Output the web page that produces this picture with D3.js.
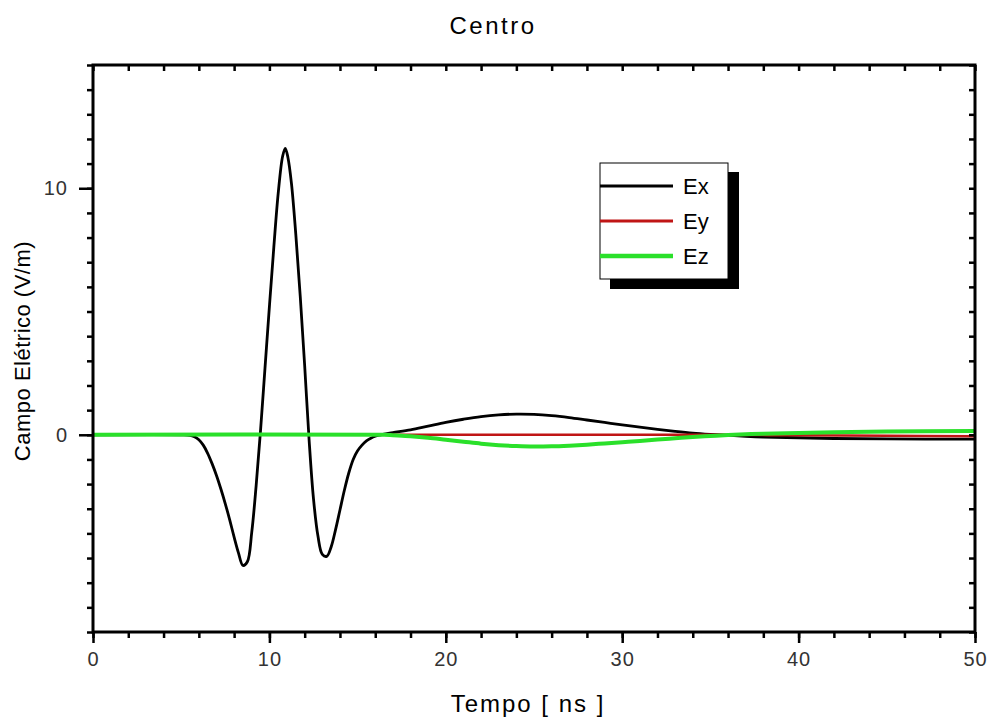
<!DOCTYPE html>
<html>
<head>
<meta charset="utf-8">
<script src="https://cdn.jsdelivr.net/npm/d3@7"></script>
<style>
  body { margin: 0; background: #fff; }
  svg { font-family: "Liberation Sans", Arial, sans-serif; }
</style>
</head>
<body>
<div id="chart"></div>
<script>
// tempo (ns) e campos (V/m)
const exTime = [0, 5, 5.5, 5.75, 6, 6.25, 6.5, 6.75, 7, 7.25, 7.5, 7.75, 8, 8.25, 8.5, 8.75, 9, 9.25, 9.5, 9.75, 10, 10.25, 10.5, 10.75, 10.9, 11.05, 11.25, 11.5, 11.75, 12, 12.25, 12.5, 12.75, 13, 13.25, 13.5, 13.75, 14, 14.25, 14.5, 14.75, 15, 15.25, 15.5, 15.75, 16, 16.25, 16.5, 17, 18, 19, 20, 21, 22, 23, 24, 25, 26, 27, 28, 29, 30, 31, 32, 33, 34, 35, 36, 37, 38, 40, 42, 45, 50];
const exValues = [0, 0, -0.02, -0.08, -0.2, -0.42, -0.75, -1.17, -1.65, -2.2, -2.8, -3.45, -4.15, -4.8, -5.3, -5.15, -3.95, -2.05, 0.2, 2.7, 5.2, 7.6, 9.8, 11.3, 11.62, 11.25, 10.2, 8.1, 5.6, 2.8, -0.2, -2.6, -4.1, -4.85, -4.93, -4.55, -3.85, -3.05, -2.25, -1.55, -1.0, -0.65, -0.42, -0.25, -0.14, -0.06, -0.01, 0.03, 0.09, 0.2, 0.35, 0.5, 0.63, 0.74, 0.81, 0.84, 0.83, 0.78, 0.7, 0.6, 0.5, 0.4, 0.31, 0.22, 0.14, 0.07, 0.02, -0.02, -0.06, -0.09, -0.12, -0.15, -0.17, -0.18];

const eyTime = [0, 16, 20, 25, 30, 35, 40, 45, 50];
const eyValues = [0, 0, 0, 0, 0, 0, -0.02, -0.04, -0.06];

const ezTime = [0, 16.5, 17, 18, 19, 20, 21, 22, 23, 24, 25, 26, 27, 28, 29, 30, 31, 32, 33, 34, 35, 36, 37, 38, 40, 42, 45, 50];
const ezValues = [0, 0, -0.02, -0.06, -0.12, -0.2, -0.28, -0.36, -0.42, -0.46, -0.48, -0.47, -0.44, -0.4, -0.35, -0.3, -0.25, -0.19, -0.14, -0.09, -0.05, -0.01, 0.02, 0.04, 0.07, 0.1, 0.13, 0.15];

const seriesNames = ["Ex", "Ey", "Ez"];
const seriesColors = ["#000000", "#c01515", "#2ae02a"];
const seriesWidths = [2.8, 2.6, 4];

const xMajorTicks = [0, 10, 20, 30, 40, 50];
const xMinorTicks = d3.range(0, 51, 2);
const yMajorTicks = [0, 10];
const yMinorTicks = d3.range(-8, 16, 1);

const width = 992, height = 721;
const margin = { top: 65, right: 17, bottom: 89, left: 93 };
const innerW = width - margin.left - margin.right;
const innerH = height - margin.top - margin.bottom;

const svg = d3.select("#chart").append("svg")
  .attr("width", width)
  .attr("height", height);

const g = svg.append("g")
  .attr("transform", `translate(${margin.left}, ${margin.top})`);

const x = d3.scaleLinear().domain([0, 50]).range([0, innerW]);
const y = d3.scaleLinear().domain([-8, 15]).range([innerH, 0]);

const series = [
  { time: exTime, values: exValues },
  { time: eyTime, values: eyValues },
  { time: ezTime, values: ezValues }
];

const line = d3.line()
  .x(d => x(d[0]))
  .y(d => y(d[1]))
  .curve(d3.curveCatmullRom.alpha(0.5));

g.append("defs").append("clipPath").attr("id", "clip")
  .append("rect").attr("width", innerW).attr("height", innerH);

const plot = g.append("g").attr("clip-path", "url(#clip)");

series.forEach((s, i) => {
  plot.append("path")
    .datum(s.time.map((t, j) => [t, s.values[j]]))
    .attr("fill", "none")
    .attr("stroke", seriesColors[i])
    .attr("stroke-width", seriesWidths[i])
    .attr("stroke-linejoin", "round")
    .attr("d", line);
});

// eixos
function styleAxis(sel) {
  sel.select(".domain").remove();
  sel.selectAll(".tick line").attr("stroke", "#000").attr("stroke-width", 2.5);
}

// inferior
g.append("g")
  .attr("transform", `translate(0, ${innerH})`)
  .call(d3.axisBottom(x).tickValues(xMinorTicks).tickSize(6).tickFormat(""))
  .call(styleAxis);
g.append("g")
  .attr("transform", `translate(0, ${innerH})`)
  .call(d3.axisBottom(x).tickValues(xMajorTicks).tickSize(11).tickPadding(9).tickFormat(d3.format("d")))
  .call(styleAxis)
  .call(a => a.selectAll("text").attr("font-size", 20).attr("letter-spacing", 1).attr("fill", "#333"));

// superior (para dentro)
g.append("g")
  .call(d3.axisBottom(x).tickValues(xMinorTicks).tickSize(6).tickFormat(""))
  .call(styleAxis);

// esquerda
g.append("g")
  .call(d3.axisLeft(y).tickValues(yMinorTicks).tickSize(6).tickFormat(""))
  .call(styleAxis);
g.append("g")
  .call(d3.axisLeft(y).tickValues(yMajorTicks).tickSize(14).tickPadding(11).tickFormat(d3.format("d")))
  .call(styleAxis)
  .call(a => a.selectAll("text").attr("font-size", 20).attr("letter-spacing", 1).attr("fill", "#333"));

// direita (para dentro)
g.append("g")
  .attr("transform", `translate(${innerW}, 0)`)
  .call(d3.axisLeft(y).tickValues(yMinorTicks).tickSize(6).tickFormat(""))
  .call(styleAxis);

// moldura
g.append("rect")
  .attr("width", innerW)
  .attr("height", innerH)
  .attr("fill", "none")
  .attr("stroke", "#000")
  .attr("stroke-width", 3);

// titulos
svg.append("text")
  .attr("x", 493)
  .attr("y", 34)
  .attr("text-anchor", "middle")
  .attr("font-size", 24)
  .attr("letter-spacing", 2.5)
  .text("Centro");

svg.append("text")
  .attr("x", 528)
  .attr("y", 712)
  .attr("text-anchor", "middle")
  .attr("font-size", 24)
  .attr("letter-spacing", 2)
  .text("Tempo [ ns ]");

svg.append("text")
  .attr("transform", "rotate(-90)")
  .attr("x", -351)
  .attr("y", 30)
  .attr("text-anchor", "middle")
  .attr("font-size", 22)
  .attr("letter-spacing", 0.5)
  .text("Campo Elétrico (V/m)");

// legenda
const legend = svg.append("g").attr("transform", "translate(600, 163)");
legend.append("rect")
  .attr("x", 10).attr("y", 9)
  .attr("width", 129).attr("height", 117)
  .attr("fill", "#000");
legend.append("rect")
  .attr("width", 128).attr("height", 116)
  .attr("fill", "#fff")
  .attr("stroke", "#000")
  .attr("stroke-width", 1);

seriesNames.forEach((name, i) => {
  const ly = 23 + i * 35;
  legend.append("line")
    .attr("x1", 0).attr("x2", 73)
    .attr("y1", ly).attr("y2", ly)
    .attr("stroke", seriesColors[i])
    .attr("stroke-width", i === 2 ? 4.5 : 3);
  legend.append("text")
    .attr("x", 83)
    .attr("y", ly + 8)
    .attr("font-size", 22)
    .text(name);
});
</script>
</body>
</html>
